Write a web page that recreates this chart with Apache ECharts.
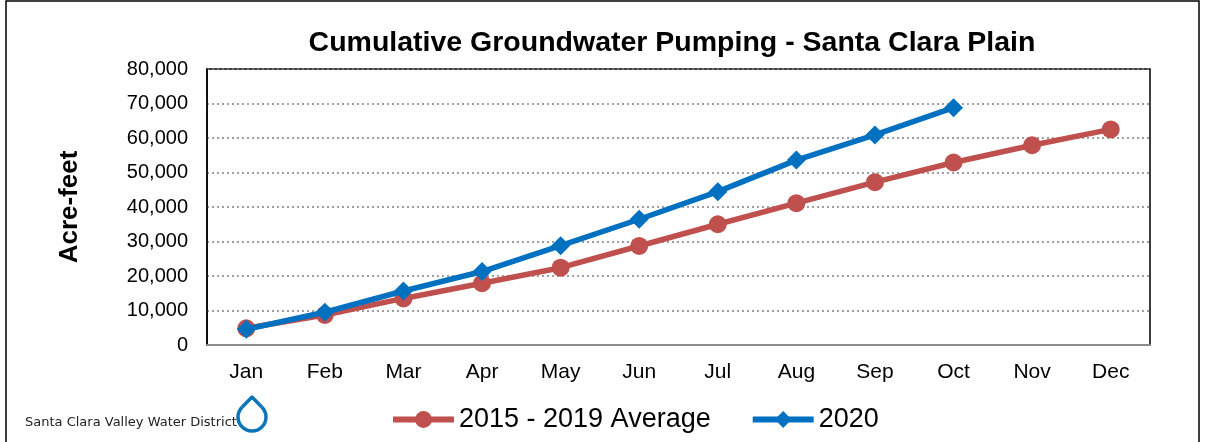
<!DOCTYPE html>
<html>
<head>
<meta charset="utf-8">
<script src="https://cdn.jsdelivr.net/npm/echarts@6/dist/echarts.min.js"></script>
<style>
  html, body { margin: 0; padding: 0; background: #fff; }
  #pumpChart { width: 1208px; height: 442px; }
</style>
</head>
<body>
<div id="pumpChart"></div>
<script>
// data
const months = ['Jan', 'Feb', 'Mar', 'Apr', 'May', 'Jun', 'Jul', 'Aug', 'Sep', 'Oct', 'Nov', 'Dec'];
const avg2015to2019 = [4850, 8700, 13500, 17900, 22400, 28700, 35000, 41100, 47200, 52900, 57900, 62500];
const year2020 = [4550, 9500, 15650, 21300, 28800, 36450, 44450, 53600, 60900, 68800];
const yTicks = [0, 10000, 20000, 30000, 40000, 50000, 60000, 70000, 80000];

const pumpChart = echarts.init(document.getElementById('pumpChart'));
pumpChart.setOption(pumpChartOption());

function pumpChartOption() {
  const red = '#C0504D';
  const blue = '#0070C0';
  // drop logo: circle bottom + two sides up to a tip
  const dc = [252, 417], dr = 14;
  return {
    backgroundColor: '#fff',
    textStyle: { fontFamily: 'Liberation Sans, Arial, sans-serif' },
    title: {
      text: 'Cumulative Groundwater Pumping - Santa Clara Plain',
      left: 667,
      textAlign: 'center',
      top: 24,
      textStyle: {
        color: '#000',
        fontSize: 28.5,
        fontWeight: 'bold'
      }
    },
    legend: {
      bottom: 4,
      left: 385,
      itemWidth: 61,
      itemHeight: 21,
      itemGap: 39,
      lineStyle: { width: 6 },
      textStyle: { color: '#000', fontSize: 27 },
      data: ['2015 - 2019 Average', '2020']
    },
    grid: {
      left: 207,
      right: 58,
      top: 69,
      bottom: 97,
      show: true,
      borderColor: '#000',
      borderWidth: 1.5
    },
    xAxis: {
      type: 'category',
      data: months,
      boundaryGap: true,
      axisLine: { lineStyle: { color: '#8c8c8c', width: 2 } },
      axisTick: { show: false },
      axisLabel: { color: '#000', fontSize: 21, margin: 17 }
    },
    yAxis: {
      type: 'value',
      min: yTicks[0],
      max: yTicks[yTicks.length - 1],
      interval: 10000,
      name: 'Acre-feet',
      nameLocation: 'middle',
      nameRotate: 90,
      nameGap: 124,
      nameTextStyle: { color: '#000', fontSize: 26, fontWeight: 'bold' },
      axisLine: { show: true, lineStyle: { color: '#000', width: 1.5 } },
      axisTick: { show: false },
      axisLabel: {
        color: '#000',
        fontSize: 20,
        margin: 19,
        formatter: function (v) { return v.toLocaleString('en-US'); }
      },
      splitLine: {
        show: true,
        lineStyle: { color: '#808080', type: [2, 3], width: 1.5 }
      }
    },
    graphic: [
      {
        type: 'rect',
        shape: { x: 6, y: 1, width: 1193, height: 460 },
        style: { fill: 'none', stroke: '#000', lineWidth: 1.5 },
        silent: true
      },
      {
        type: 'text',
        x: 25,
        y: 416,
        style: {
          text: 'Santa Clara Valley Water District',
          fill: '#222',
          font: '13px "DejaVu Sans", sans-serif'
        }
      },
      {
        type: 'arc',
        shape: { cx: dc[0], cy: dc[1], r: dr, startAngle: -0.775, endAngle: 3.917, clockwise: true },
        style: { fill: 'none', stroke: '#0C74B8', lineWidth: 3.5 }
      },
      {
        type: 'polyline',
        shape: { points: [[dc[0] - 10, dc[1] - 9.8], [dc[0], dc[1] - 20], [dc[0] + 10, dc[1] - 9.8]] },
        style: { fill: 'none', stroke: '#0C74B8', lineWidth: 3.5, lineJoin: 'round' }
      }
    ],
    series: [
      {
        name: '2015 - 2019 Average',
        type: 'line',
        data: avg2015to2019,
        symbol: 'circle',
        symbolSize: 18,
        lineStyle: { color: red, width: 5.5 },
        itemStyle: { color: red },
        z: 2
      },
      {
        name: '2020',
        type: 'line',
        data: year2020,
        symbol: 'diamond',
        symbolSize: 19,
        lineStyle: { color: blue, width: 5.5 },
        itemStyle: { color: blue },
        z: 3
      }
    ]
  };
}
</script>
</body>
</html>
